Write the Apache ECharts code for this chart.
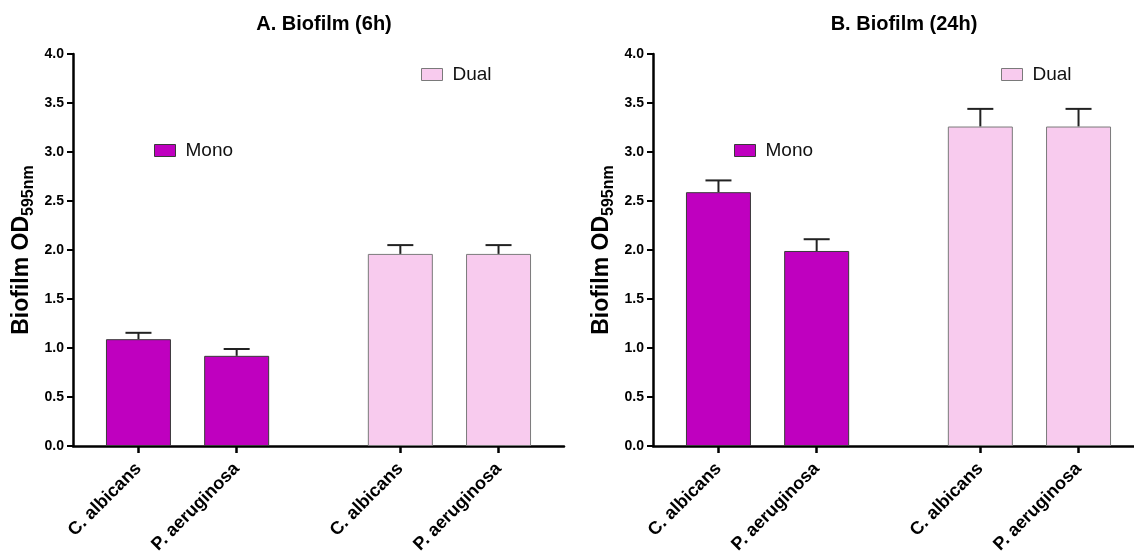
<!DOCTYPE html>
<html>
<head>
<meta charset="utf-8">
<script src="https://cdn.jsdelivr.net/npm/echarts@6/dist/echarts.min.js"></script>
<style>html,body{margin:0;padding:0;background:#fff}#c{width:1134px;height:558px}</style>
</head>
<body>
<div id="c"></div>
<script>
// ---- data ----
const panelTitles = ['A. Biofilm (6h)', 'B. Biofilm (24h)'];
const categories = ['C. albicans', 'P. aeruginosa', 'C. albicans', 'P. aeruginosa'];
const groupOf = ['Mono', 'Mono', 'Dual', 'Dual'];
const slotOf = [2, 5, 10, 13];          // slot on the 16-slot category axis (GraphPad-like spacing)
const slotCount = 16;
const mean6h = [1.09, 0.92, 1.96, 1.96];
const sd6h = [0.065, 0.07, 0.09, 0.09];
const mean24h = [2.59, 1.99, 3.26, 3.26];
const sd24h = [0.12, 0.12, 0.18, 0.18];
const yTicks = [0, 0.5, 1.0, 1.5, 2.0, 2.5, 3.0, 3.5, 4.0];

// ---- build ----
const FONT = '"Liberation Sans", Arial, Helvetica, sans-serif';
const MONO = '#bf00bf', DUAL = '#f8cbee';
const slotLabels = Array.from({length: slotCount}, () => '');
slotOf.forEach((s, i) => slotLabels[s] = categories[i]);

function seriesVals(means, grp) {
  const arr = Array.from({length: slotCount}, () => null);
  means.forEach((m, i) => { if (groupOf[i] === grp) arr[slotOf[i]] = m; });
  return arr;
}

const gridLefts = [73, 653];
const grids = [], xAxes = [], yAxes = [], series = [], titles = [], legends = [];
[[mean6h, sd6h], [mean24h, sd24h]].forEach(([means, sds], p) => {
  grids.push({left: gridLefts[p], width: 491, top: 54, height: 392, outerBoundsMode: 'none', containLabel: false});
  titles.push({text: panelTitles[p], left: gridLefts[p] + 246, top: 9, textAlign: 'center',
    textStyle: {fontFamily: FONT, fontSize: 20, fontWeight: 'bold', color: '#000'}});
  xAxes.push({
    gridIndex: p, type: 'category', data: slotLabels, boundaryGap: false,
    axisLine: {lineStyle: {color: '#000', width: 2.5}},
    axisTick: {interval: (i, v) => v !== '', length: 7, lineStyle: {color: '#000', width: 2.5}},
    axisLabel: {interval: 0, rotate: 45, margin: 20, fontFamily: FONT, fontSize: 18, fontWeight: 'bold',
      fontStyle: 'normal', color: '#000'},
    splitLine: {show: false}
  });
  yAxes.push({
    gridIndex: p, type: 'value', min: yTicks[0], max: yTicks[yTicks.length - 1], interval: 0.5,
    name: '{m|Biofilm OD}{s|595nm}', nameLocation: 'middle', nameRotate: 90, nameGap: 40,
    nameTextStyle: {rich: {
      m: {fontFamily: FONT, fontSize: 23, fontWeight: 'bold', color: '#000', verticalAlign: 'bottom'},
      s: {fontFamily: FONT, fontSize: 16, fontWeight: 'bold', color: '#000', verticalAlign: 'bottom', padding: [0, 0, -4, 0]}
    }},
    axisLine: {show: true, lineStyle: {color: '#000', width: 2.5}},
    axisTick: {show: true, length: 6, lineStyle: {color: '#000', width: 2}},
    axisLabel: {formatter: v => v.toFixed(1), fontFamily: FONT, fontSize: 14, fontWeight: 'bold', color: '#000', margin: 9},
    splitLine: {show: false}
  });
  series.push({
    name: 'Mono', type: 'bar', xAxisIndex: p, yAxisIndex: p, data: seriesVals(means, 'Mono'),
    barWidth: 65, barGap: '-100%', itemStyle: {color: MONO, borderColor: '#3a3a3a', borderWidth: 1}, z: 2
  });
  series.push({
    name: 'Dual', type: 'bar', xAxisIndex: p, yAxisIndex: p, data: seriesVals(means, 'Dual'),
    barWidth: 65, barGap: '-100%', itemStyle: {color: DUAL, borderColor: '#7a7a7a', borderWidth: 1}, z: 2
  });
  series.push({
    type: 'custom', xAxisIndex: p, yAxisIndex: p, z: 1,
    data: means.map((m, i) => [slotOf[i], m, m + sds[i]]),
    renderItem: (params, api) => {
      const b = api.coord([api.value(0), api.value(1)]);
      const t = api.coord([api.value(0), api.value(2)]);
      const hw = 13;
      const st = {stroke: '#222', lineWidth: 2};
      return {type: 'group', children: [
        {type: 'line', shape: {x1: b[0], y1: b[1], x2: t[0], y2: t[1]}, style: st},
        {type: 'line', shape: {x1: t[0] - hw, y1: t[1], x2: t[0] + hw, y2: t[1]}, style: st}
      ]};
    }
  });
  legends.push({data: ['Mono'], icon: 'rect', left: gridLefts[p] + 76, top: 136, itemWidth: 21, itemHeight: 12, itemGap: 10,
    itemStyle: {borderColor: '#3a3a3a', borderWidth: 1},
    textStyle: {fontFamily: FONT, fontSize: 19, color: '#111', padding: [0, 0, 0, 5]}});
  legends.push({data: ['Dual'], icon: 'rect', left: gridLefts[p] + 343, top: 60, itemWidth: 21, itemHeight: 12, itemGap: 10,
    itemStyle: {borderColor: '#7a7a7a', borderWidth: 1},
    textStyle: {fontFamily: FONT, fontSize: 19, color: '#111', padding: [0, 0, 0, 5]}});
});

const chart = echarts.init(document.getElementById('c'), null, {renderer: 'canvas'});
chart.setOption({
  animation: false, backgroundColor: '#fff',
  title: titles, grid: grids, xAxis: xAxes, yAxis: yAxes, legend: legends, series: series
});
</script>
</body>
</html>
